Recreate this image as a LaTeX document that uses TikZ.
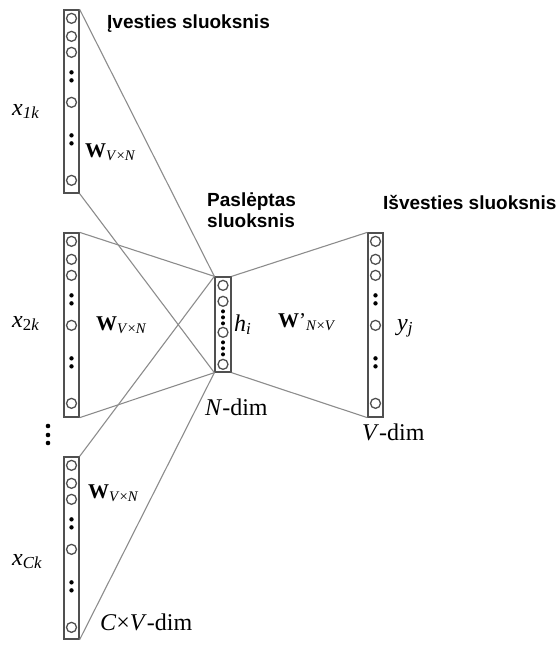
\documentclass[tikz,border=0pt]{standalone}
\usepackage{fontspec}
\setmainfont{Liberation Serif}
\newfontfamily\labelfont{Liberation Sans}
\usetikzlibrary{calc}
\definecolor{wvframe}{HTML}{505050}
\definecolor{wvline}{HTML}{8C8C8C}

\begin{document}
\begin{tikzpicture}[x=1pt, y=-1pt,
    layer/.style={draw=wvframe, line width=1.3pt, minimum width=15pt, inner sep=0pt},
    unit/.style={draw=wvframe, line width=1.3pt},
    conn/.style={draw=wvline, line width=1.1pt},
    lbl/.style={font=\fontsize{24}{28}\selectfont, inner sep=0pt, anchor=base west},
    wlbl/.style={font=\fontsize{21}{24}\selectfont, inner sep=0pt, anchor=base west},
    title/.style={font=\labelfont\bfseries\fontsize{19}{21}\selectfont,
                  inner sep=0pt, anchor=base west, align=left}
  ]
    \useasboundingbox (0,0) rectangle (560,646);

    % Layers
    \node[layer, minimum height=183pt] (in1) at (71.5, 101.5) {};
    \node[layer, minimum height=184pt] (in2) at (71.5, 325) {};
    \node[layer, minimum height=182pt] (inC) at (71.5, 548) {};
    \node[layer, minimum height=95pt, minimum width=16pt] (hid) at (223, 324.5) {};
    \node[layer, minimum height=184pt] (out) at (375.5, 325) {};

    % Units
    \foreach \l in {in1, in2, inC, out} {
      \foreach \dy in {9, 27, 43, 93, 171}
        \draw[unit] ($(\l.north)+(0,\dy)$) circle (5pt);
      \foreach \dy in {63, 71, 126, 134}
        \fill ($(\l.north)+(0,\dy)$) circle (2.2pt);
    }
    \foreach \dy in {9, 25, 56, 88}
      \draw[unit] ($(hid.north)+(0,\dy)$) circle (5pt);
    \foreach \dy in {35, 41, 47, 66, 72, 78}
      \fill ($(hid.north)+(0,\dy)$) circle (2pt);
    \foreach \yy in {426, 435, 443}
      \fill (48, \yy) circle (2.3pt);

    % Weights
    \draw[conn] (in1.north east) -- (hid.north west);
    \draw[conn] (in1.south east) -- (hid.south west);
    \draw[conn] (in2.north east) -- (hid.north west);
    \draw[conn] (in2.south east) -- (hid.south west);
    \draw[conn] (inC.north east) -- (hid.north west);
    \draw[conn] (inC.south east) -- (hid.south west);
    \draw[conn] (hid.north east) -- (out.north west);
    \draw[conn] (hid.south east) -- (out.south west);

    % Labels
    \node[title] (tin) at (107, 28) {Įvesties sluoksnis};
    \node[title] (thid) at (207, 227) {Paslėptas\\sluoksnis};
    \node[title] (tout) at (383, 209) {Išvesties sluoksnis};

    \node[lbl] (x1) at (12, 115) {\textit{x}\textsubscript{\textit{1k}}};
    \node[lbl] (x2) at (12, 327) {\textit{x}\textsubscript{2\textit{k}}};
    \node[lbl] (xC) at (12, 565) {\textit{x}\textsubscript{\textit{Ck}}};
    \node[wlbl] (w1) at (85, 157) {\textbf{W}\textsubscript{\textit{V}×\textit{N}}};
    \node[wlbl] (w2) at (96, 330) {\textbf{W}\textsubscript{\textit{V}×\textit{N}}};
    \node[wlbl] (wC) at (88, 498) {\textbf{W}\textsubscript{\textit{V}×\textit{N}}};
    \node[wlbl] (wout) at (278, 327) {\textbf{W}'\textsubscript{\textit{N}×\textit{V}}};
    \node[lbl] (hi) at (234, 331) {\textit{h}\textsubscript{\textit{i}}};
    \node[lbl] (yj) at (397, 330) {\textit{y}\textsubscript{\textit{j}}};
    \node[lbl] (cvdim) at (100, 630) {\textit{C}×\textit{V}-dim};
    \node[lbl] (ndim) at (205, 415) {\textit{N}-dim};
    \node[lbl] (vdim) at (362, 440) {\textit{V}-dim};
  \end{tikzpicture}
\end{document}
